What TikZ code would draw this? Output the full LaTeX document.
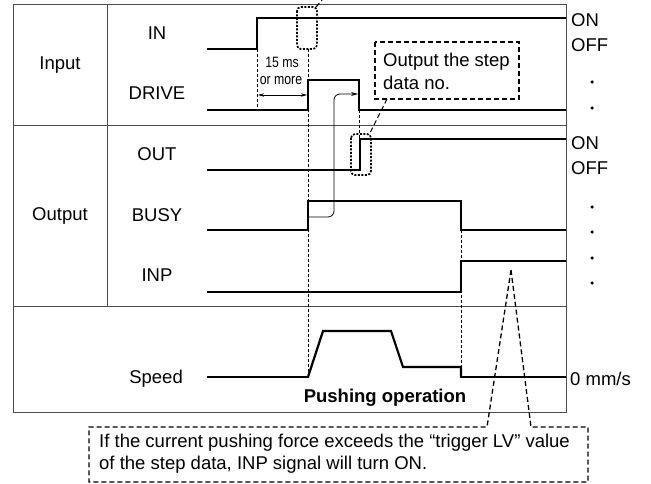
\documentclass[tikz,border=0pt]{standalone}
\usepackage{fontspec}
\setmainfont{Liberation Sans}
\usetikzlibrary{arrows.meta}
\begin{document}
\begin{tikzpicture}[x=1pt,y=-1pt,
  frame/.style={draw=black!70, line width=0.9pt},
  sig/.style={line width=2.9pt, line join=miter},
  sigthin/.style={line width=2.2pt, line join=miter},
  lbl/.style={font=\fontsize{18.5}{23}\selectfont, inner sep=0pt},
  small/.style={font=\fontsize{15}{18}\selectfont, inner sep=0pt, xscale=0.82},
  guide/.style={line width=1pt, dash pattern=on 3pt off 2pt},
  callout/.style={line width=1.3pt, dash pattern=on 5pt off 3pt},
  dotbox/.style={line width=1.7pt, dash pattern=on 2pt off 1.5pt, rounded corners=4pt},
  dotmark/.style={circle, fill, inner sep=0pt, minimum size=3.5pt},
  thinarrow/.style={line width=0.8pt, rounded corners=6pt, -{Stealth[length=7pt,width=4pt]}}
]
\useasboundingbox (0,0) rectangle (651,484);

% frame
\draw[frame] (13,4) rectangle (566,412);
\draw[frame] (13,125) -- (566,125);
\draw[frame] (13,306) -- (566,306);
\draw[frame] (107,4) -- (107,306);

% left labels
\node[lbl] (input) at (60,65) {Input};
\node[lbl] (output) at (60,216) {Output};
\node[lbl] (in) at (157,33) {IN};
\node[lbl] (drive) at (157,93) {DRIVE};
\node[lbl] (out) at (157,154) {OUT};
\node[lbl] (busy) at (157,215) {BUSY};
\node[lbl] (inp) at (157,275) {INP};
\node[lbl, anchor=east] (speed) at (183,379) {Speed};

% right labels
\node[lbl, anchor=west] (on1) at (571,20) {ON};
\node[lbl, anchor=west] (off1) at (571,45) {OFF};
\node[lbl, anchor=west] (on2) at (571,143) {ON};
\node[lbl, anchor=west] (off2) at (571,168) {OFF};
\node[lbl, anchor=west] (zero) at (570,379) {0 mm/s};
\foreach \yy/\nm in {82/d1,108/d2,207/d3,232/d4,258/d5,283/d6}
  \node[dotmark] (\nm) at (592,\yy) {};

% guide lines
\draw[guide] (257,49) -- (257,110);
\draw[guide] (308,49) -- (308,377);
\draw[guide] (359,110) -- (359,139);
\draw[guide] (461,230) -- (461,367);

% signals
\draw[sig] (207,49) -- (257,49) -- (257,18) -- (566,18);
\draw[sig] (207,110) -- (308,110) -- (308,80) -- (359,80) -- (359,110) -- (566,110);
\draw[sig] (207,170) -- (360,170) -- (360,139) -- (566,139);
\draw[sig] (207,230) -- (308,230) -- (308,201) -- (461,201) -- (461,230) -- (566,230);
\draw[sig] (207,292) -- (461,292) -- (461,261) -- (566,261);
\draw[sig] (207,377) -- (309,377);
\draw[sigthin] (308,377) -- (323,331) -- (391,331) -- (403,367) -- (461,367) -- (461,377);
\draw[sig] (460,377) -- (566,377);

% 15 ms
\draw[line width=0.8pt, {Stealth[length=6pt,width=3.5pt]}-{Stealth[length=6pt,width=3.5pt]}] (258,95) -- (307,95);
\node[small] (ms) at (282,62) {15 ms};
\node[small] (more) at (281,81) {or more};

% dotted boxes
\draw[dotbox] (297,7) rectangle (317,49);
\draw[dotbox] (351,134) rectangle (371,175);
\coordinate (topleader) at (322,0);
\draw[callout, line width=1.1pt] (316,7) -- (topleader);

% callout step data
\draw[callout] (375,42) rectangle (519,99);
\node[lbl, anchor=west, align=left] (stepdata) at (383,71.5) {Output the step\\data no.};
\draw[callout, line width=1.1pt] (387,99) -- (369,135);

% thin arrow
\draw[thinarrow] (308,217) -- (334,217) -- (334,94) -- (358,94);

% pushing operation
\node[lbl, font=\fontsize{18.5}{23}\selectfont\bfseries] (push) at (385,398) {Pushing operation};

% bottom callout
\draw[callout] (511,270) -- (531,427) -- (588,427) -- (588,482) -- (89,482) -- (89,427) -- (487,427) -- cycle;
\node[lbl, anchor=west, align=left, font=\fontsize{18.5}{22}\selectfont] (note) at (99,454) {If the current pushing force exceeds the “trigger LV” value\\of the step data, INP signal will turn ON.};
\end{tikzpicture}
\end{document}
